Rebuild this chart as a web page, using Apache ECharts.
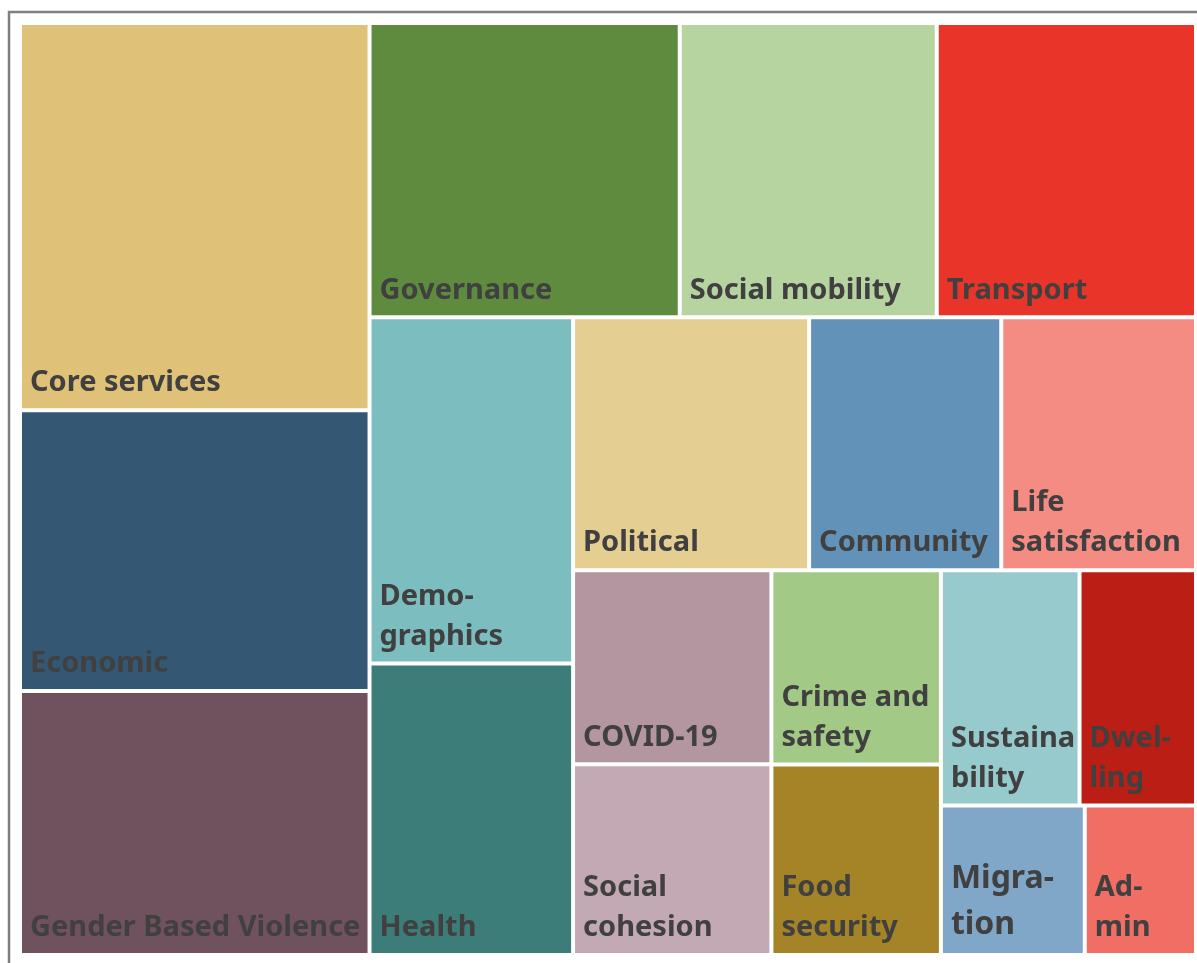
<!DOCTYPE html>
<html>
<head>
<meta charset="utf-8">
<script src="https://cdn.jsdelivr.net/npm/echarts@6/dist/echarts.min.js"></script>
<style>
  html, body { margin: 0; padding: 0; background: #fff; }
  #main { width: 1197px; height: 963px; }
</style>
</head>
<body>
<div id="main"></div>
<script>
var names = ['Core services', 'Economic', 'Gender Based Violence', 'Governance', 'Social mobility',
  'Transport', 'Demographics', 'Health', 'Political', 'Community', 'Life satisfaction', 'COVID-19',
  'Social cohesion', 'Crime and safety', 'Food security', 'Sustainability', 'Dwelling', 'Migration', 'Admin'];
var values = [41.5, 30.1, 28.3, 28.0, 23.2, 23.4, 21.6, 18.2, 18.3, 14.9, 15.1, 11.8, 11.6, 10.1, 9.9, 10.0, 8.4, 6.6, 5.1];
var labels = ['Core services', 'Economic', 'Gender Based Violence', 'Governance', 'Social mobility',
  'Transport', 'Demo-\ngraphics', 'Health', 'Political', 'Community', 'Life\nsatisfaction', 'COVID-19',
  'Social\ncohesion', 'Crime and\nsafety', 'Food\nsecurity', 'Sustaina\nbility', 'Dwel-\nling', 'Migra-\ntion', 'Ad-\nmin'];
var colors = ['#DFC277', '#345873', '#70525E', '#5E8B3D', '#B6D4A0', '#E93529', '#7CBEC0', '#3C7D7A',
  '#E5CE91', '#6392B8', '#F48C84', '#B496A0', '#C3A9B3', '#A3C986', '#A58327', '#96CACD', '#BA1E15',
  '#81A7C8', '#F16E64'];

// how the tiles are nested (indices into the arrays above) so that the
// squarify layout cuts the area the same way as the excel treemap
var groups = [[0, 1, 2], [[3, 4, 5], [[6, 7], [[8, 9, 10], [[11, 12], [[13, 14], [[15, 16], [17, 18]]]]]]]];

var gid = 0;
function build(g) {
  if (typeof g === 'number') {
    var item = {
      name: names[g],
      value: values[g],
      itemStyle: { color: colors[g], borderWidth: 2, borderColor: '#fff' }
    };
    // the Migration label is set a bit bigger in the original
    if (names[g] === 'Migration') item.label = { fontSize: 32, lineHeight: 46 };
    return item;
  }
  var children = g.map(build);
  var sum = 0;
  children.forEach(function (c) { sum += c.value; });
  return { name: 'group' + (gid++), value: sum, children: children };
}

var chart = echarts.init(document.getElementById('main'));
chart.setOption({
  animation: false,
  graphic: [{
    type: 'rect',
    shape: { x: 9, y: 12, width: 1210, height: 1000 },
    style: { fill: 'none', stroke: '#7f7f7f', lineWidth: 2.5 },
    silent: true
  }],
  series: [{
    type: 'treemap',
    left: 20, top: 23, width: 1176, height: 932,
    roam: false,
    nodeClick: false,
    sort: false,
    squareRatio: 1,
    breadcrumb: { show: false },
    itemStyle: { borderWidth: 0, gapWidth: 0 },
    label: {
      show: true,
      position: 'insideBottomLeft',
      distance: 0,
      padding: [0, 0, 5, 8],
      color: '#404040',
      fontFamily: 'Noto Sans',
      fontWeight: 'bold',
      fontSize: 29,
      lineHeight: 40,
      overflow: 'none',
      formatter: function (p) {
        var i = names.indexOf(p.name);
        return i >= 0 ? labels[i] : '';
      }
    },
    emphasis: { disabled: true },
    data: groups.map(build)
  }]
});
</script>
</body>
</html>
